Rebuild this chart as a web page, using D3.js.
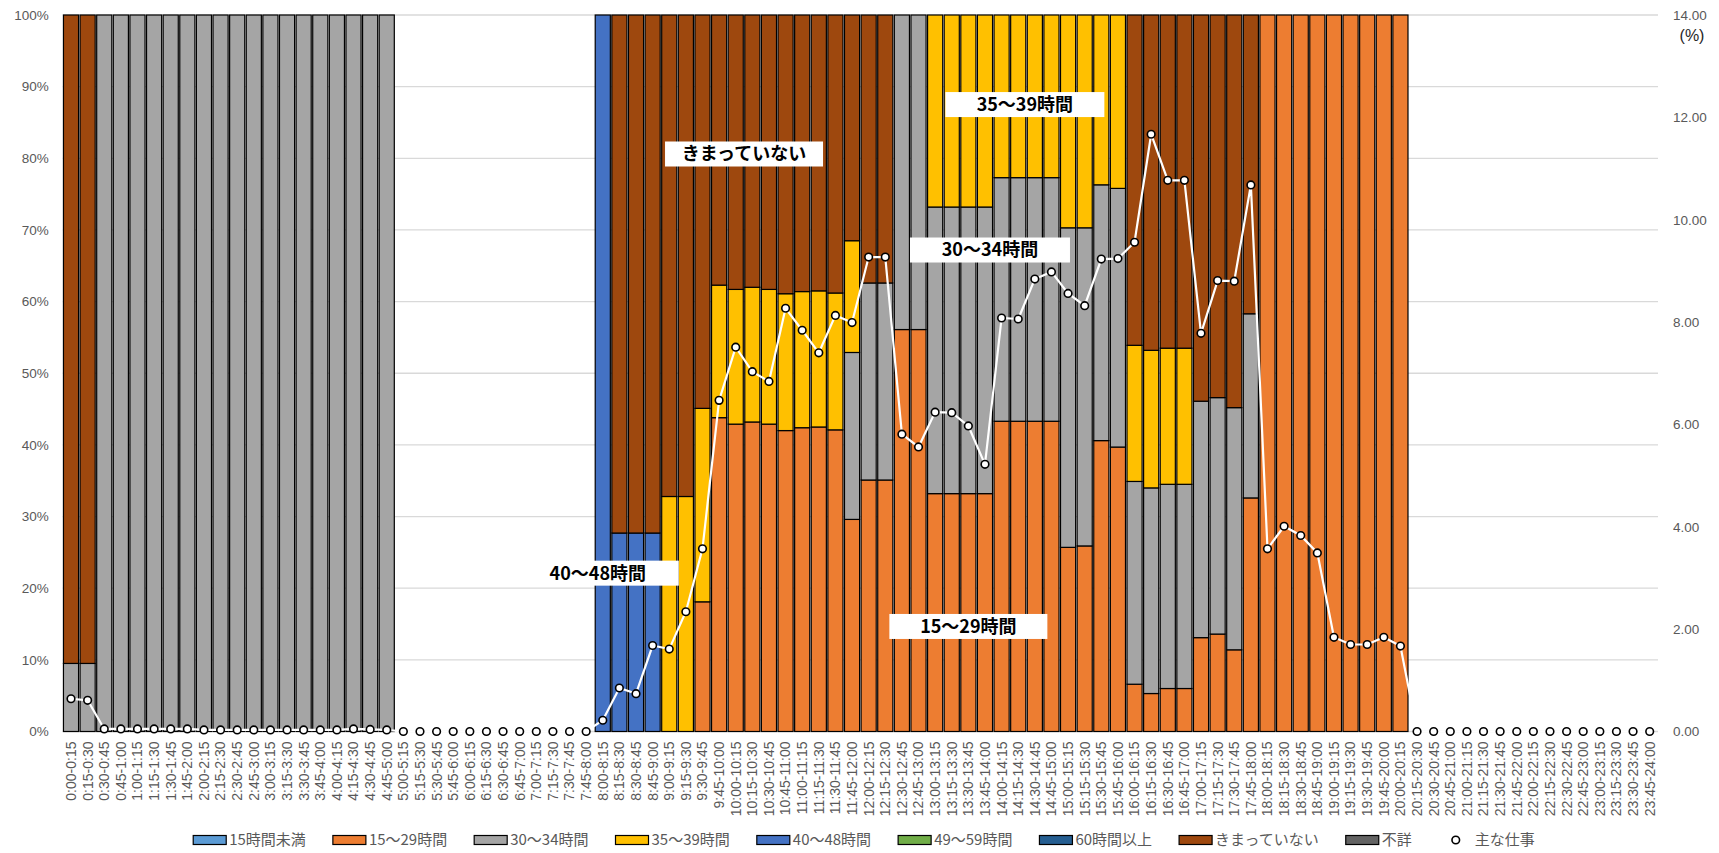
<!DOCTYPE html>
<html>
<head>
<meta charset="utf-8">
<script src="https://cdn.jsdelivr.net/npm/d3@7"></script>
<style>
    body { margin: 0; background: #ffffff; }
    svg text { font-family: "Liberation Sans", "Noto Sans CJK JP", sans-serif; }
    .tick-label { fill: #595959; font-size: 13.5px; }
    .x-label { fill: #595959; font-size: 14px; }
    .legend-text { fill: #595959; font-size: 15px; font-family: "Noto Sans CJK JP", sans-serif !important; }
    .box-text { fill: #000000; font-size: 18px; font-weight: bold; font-family: "Noto Sans CJK JP", sans-serif !important; }
</style>
</head>
<body>
<div id="chart"></div>
<script>
// time slots (x categories)
var timeSlots = [
    "0:00-0:15","0:15-0:30","0:30-0:45","0:45-1:00","1:00-1:15","1:15-1:30","1:30-1:45","1:45-2:00",
    "2:00-2:15","2:15-2:30","2:30-2:45","2:45-3:00","3:00-3:15","3:15-3:30","3:30-3:45","3:45-4:00",
    "4:00-4:15","4:15-4:30","4:30-4:45","4:45-5:00","5:00-5:15","5:15-5:30","5:30-5:45","5:45-6:00",
    "6:00-6:15","6:15-6:30","6:30-6:45","6:45-7:00","7:00-7:15","7:15-7:30","7:30-7:45","7:45-8:00",
    "8:00-8:15","8:15-8:30","8:30-8:45","8:45-9:00","9:00-9:15","9:15-9:30","9:30-9:45","9:45-10:00",
    "10:00-10:15","10:15-10:30","10:30-10:45","10:45-11:00","11:00-11:15","11:15-11:30","11:30-11:45","11:45-12:00",
    "12:00-12:15","12:15-12:30","12:30-12:45","12:45-13:00","13:00-13:15","13:15-13:30","13:30-13:45","13:45-14:00",
    "14:00-14:15","14:15-14:30","14:30-14:45","14:45-15:00","15:00-15:15","15:15-15:30","15:30-15:45","15:45-16:00",
    "16:00-16:15","16:15-16:30","16:30-16:45","16:45-17:00","17:00-17:15","17:15-17:30","17:30-17:45","17:45-18:00",
    "18:00-18:15","18:15-18:30","18:30-18:45","18:45-19:00","19:00-19:15","19:15-19:30","19:30-19:45","19:45-20:00",
    "20:00-20:15","20:15-20:30","20:30-20:45","20:45-21:00","21:00-21:15","21:15-21:30","21:30-21:45","21:45-22:00",
    "22:00-22:15","22:15-22:30","22:30-22:45","22:45-23:00","23:00-23:15","23:15-23:30","23:30-23:45","23:45-24:00"
]

var seriesNames = ["15時間未満","15～29時間","30～34時間","35～39時間","40～48時間","49～59時間","60時間以上","きまっていない","不詳"]
var lineName = "主な仕事"

// share of each working-hours group per slot (%)
var under15 = [
    0,0,0,0,0,0,0,0,0,0,0,0,0,0,0,0,
    0,0,0,0,0,0,0,0,0,0,0,0,0,0,0,0,
    0,0,0,0,0,0,0,0,0,0,0,0,0,0,0,0,
    0,0,0,0,0,0,0,0,0,0,0,0,0,0,0,0,
    0,0,0,0,0,0,0,0,0,0,0,0,0,0,0,0,
    0,0,0,0,0,0,0,0,0,0,0,0,0,0,0,0
]
var h15to29 = [
    0,0,0,0,0,0,0,0,0,0,0,0,0,0,0,0,
    0,0,0,0,0,0,0,0,0,0,0,0,0,0,0,0,
    0,0,0,0,0,0,18.1,43.8,42.9,43.2,42.9,42.0,42.4,42.5,42.1,29.6,
    35.1,35.1,56.1,56.1,33.2,33.2,33.2,33.2,43.3,43.3,43.3,43.3,25.7,25.9,40.6,39.7,
    6.6,5.3,6.0,6.0,13.1,13.6,11.4,32.6,100,100,100,100,100,100,100,100,
    100,0,0,0,0,0,0,0,0,0,0,0,0,0,0,0
]
var h30to34 = [
    9.5,9.5,100,100,100,100,100,100,100,100,100,100,100,100,100,100,
    100,100,100,100,0,0,0,0,0,0,0,0,0,0,0,0,
    0,0,0,0,0,0,0,0,0,0,0,0,0,0,0,23.3,
    27.5,27.5,43.9,43.9,40.0,40.0,40.0,40.0,34.0,34.0,34.0,34.0,44.6,44.4,35.7,36.1,
    28.3,28.7,28.5,28.5,33.0,33.0,33.8,25.7,0,0,0,0,0,0,0,0,
    0,0,0,0,0,0,0,0,0,0,0,0,0,0,0,0
]
var h35to39 = [
    0,0,0,0,0,0,0,0,0,0,0,0,0,0,0,0,
    0,0,0,0,0,0,0,0,0,0,0,0,0,0,0,0,
    0,0,0,0,32.8,32.8,27.0,18.5,18.8,18.8,18.8,19.1,19.0,19.0,19.1,15.6,
    0,0,0,0,26.8,26.8,26.8,26.8,22.7,22.7,22.7,22.7,29.7,29.7,23.7,24.2,
    19.0,19.2,19.0,19.0,0,0,0,0,0,0,0,0,0,0,0,0,
    0,0,0,0,0,0,0,0,0,0,0,0,0,0,0,0
]
var h40to48 = [
    0,0,0,0,0,0,0,0,0,0,0,0,0,0,0,0,
    0,0,0,0,0,0,0,0,0,0,0,0,0,0,0,0,
    100,27.7,27.7,27.7,0,0,0,0,0,0,0,0,0,0,0,0,
    0,0,0,0,0,0,0,0,0,0,0,0,0,0,0,0,
    0,0,0,0,0,0,0,0,0,0,0,0,0,0,0,0,
    0,0,0,0,0,0,0,0,0,0,0,0,0,0,0,0
]
var h49to59 = [
    0,0,0,0,0,0,0,0,0,0,0,0,0,0,0,0,
    0,0,0,0,0,0,0,0,0,0,0,0,0,0,0,0,
    0,0,0,0,0,0,0,0,0,0,0,0,0,0,0,0,
    0,0,0,0,0,0,0,0,0,0,0,0,0,0,0,0,
    0,0,0,0,0,0,0,0,0,0,0,0,0,0,0,0,
    0,0,0,0,0,0,0,0,0,0,0,0,0,0,0,0
]
var over60 = [
    0,0,0,0,0,0,0,0,0,0,0,0,0,0,0,0,
    0,0,0,0,0,0,0,0,0,0,0,0,0,0,0,0,
    0,0,0,0,0,0,0,0,0,0,0,0,0,0,0,0,
    0,0,0,0,0,0,0,0,0,0,0,0,0,0,0,0,
    0,0,0,0,0,0,0,0,0,0,0,0,0,0,0,0,
    0,0,0,0,0,0,0,0,0,0,0,0,0,0,0,0
]
var notFixed = [
    90.5,90.5,0,0,0,0,0,0,0,0,0,0,0,0,0,0,
    0,0,0,0,0,0,0,0,0,0,0,0,0,0,0,0,
    0,72.3,72.3,72.3,67.2,67.2,54.9,37.7,38.3,38.0,38.3,38.9,38.6,38.5,38.8,31.5,
    37.4,37.4,0,0,0,0,0,0,0,0,0,0,0,0,0,0,
    46.1,46.8,46.5,46.5,53.9,53.4,54.8,41.7,0,0,0,0,0,0,0,0,
    0,0,0,0,0,0,0,0,0,0,0,0,0,0,0,0
]
var unknown = [
    0,0,0,0,0,0,0,0,0,0,0,0,0,0,0,0,
    0,0,0,0,0,0,0,0,0,0,0,0,0,0,0,0,
    0,0,0,0,0,0,0,0,0,0,0,0,0,0,0,0,
    0,0,0,0,0,0,0,0,0,0,0,0,0,0,0,0,
    0,0,0,0,0,0,0,0,0,0,0,0,0,0,0,0,
    0,0,0,0,0,0,0,0,0,0,0,0,0,0,0,0
]

// 主な仕事 (right axis, %)
var mainWork = [
    0.64,0.61,0.05,0.05,0.05,0.05,0.05,0.05,0.03,0.03,0.03,0.03,0.03,0.03,0.03,0.03,
    0.03,0.05,0.04,0.03,0,0,0,0,0,0,0,0,0,0,0,0,
    0.22,0.85,0.74,1.68,1.61,2.34,3.57,6.47,7.51,7.03,6.84,8.27,7.84,7.40,8.13,7.99,
    9.27,9.27,5.81,5.56,6.24,6.23,5.97,5.22,8.08,8.06,8.84,8.98,8.56,8.32,9.23,9.24,
    9.56,11.67,10.77,10.77,7.78,8.81,8.80,10.68,3.57,4.01,3.83,3.49,1.84,1.70,1.70,1.84,
    1.67,0,0,0,0,0,0,0,0,0,0,0,0,0,0,0
]

var leftTicks = [0,10,20,30,40,50,60,70,80,90,100]
var rightTicks = [0,2,4,6,8,10,12,14]

class WorkChart {

    constructor() {
        this.width = 1719
        this.height = 853
        this.colors_arr = ["#5B9BD5","#ED7D31","#A5A5A5","#FFC000","#4472C4","#70AD47","#255E91","#9E480E","#636363"]
        this.margin = {top: 15, right: 61, bottom: 121.5, left: 62.7}

        document.getElementById('chart').innerHTML = ''
        this.svg = d3.select('#chart')
            .append('svg')
            .attr('width', this.width)
            .attr('height', this.height)
    }

    update() {
        var self = this
        var values = [under15, h15to29, h30to34, h35to39, h40to48, h49to59, over60, notFixed, unknown]
        var rows = timeSlots.map(function(slot, i) {
            var row = {slot: slot}
            seriesNames.forEach(function(name, k) { row[name] = values[k][i] })
            return row
        })

        var x0 = this.margin.left, x1 = this.width - this.margin.right
        var y0 = this.height - this.margin.bottom, y1 = this.margin.top

        var xScale = d3.scaleBand().domain(timeSlots).range([x0, x1]).paddingInner(0.09).paddingOuter(0.045)
        var yScale = d3.scaleLinear().domain([0, 100]).range([y0, y1])
        var yRight = d3.scaleLinear().domain([0, 14]).range([y0, y1])
        this.xScale = xScale

        // gridlines
        this.svg.append('g').selectAll('line')
            .data(leftTicks)
            .enter().append('line')
            .attr('x1', x0).attr('x2', x1)
            .attr('y1', function(d) { return yScale(d) })
            .attr('y2', function(d) { return yScale(d) })
            .attr('stroke', '#D9D9D9')
            .attr('stroke-width', 1.3)

        var yAxis = d3.axisLeft(yScale).tickValues(leftTicks).tickSize(0).tickPadding(14)
            .tickFormat(function(d) { return d + '%' })
        this.svg.append('g')
            .attr('transform', 'translate(' + x0 + ',0)')
            .call(yAxis)
            .call(function(g) { g.select('.domain').remove() })
            .selectAll('text').attr('class', 'tick-label').attr('font-family', null).attr('font-size', null)

        var yAxisRight = d3.axisRight(yRight).tickValues(rightTicks).tickSize(0).tickPadding(15)
            .tickFormat(d3.format('.2f'))
        this.svg.append('g')
            .attr('transform', 'translate(' + x1 + ',0)')
            .call(yAxisRight)
            .call(function(g) { g.select('.domain').remove() })
            .selectAll('text').attr('class', 'tick-label').attr('font-family', null).attr('font-size', null)

        this.svg.append('text')
            .attr('x', 1692).attr('y', 41)
            .attr('text-anchor', 'middle')
            .attr('fill', '#262626')
            .style('font-size', '16px')
            .text('(%)')

        // stacked bars
        var stacked = d3.stack().keys(seriesNames)(rows)
        var groups = this.svg.append('g').selectAll('g')
            .data(stacked)
            .enter().append('g')
            .attr('fill', function(d, i) { return self.colors_arr[i] })

        groups.selectAll('rect')
            .data(function(d) { return d.filter(function(p) { return p[1] - p[0] > 0 }) })
            .enter().append('rect')
            .attr('x', function(d) { return xScale(d.data.slot) })
            .attr('width', xScale.bandwidth())
            .attr('y', function(d) { return yScale(d[1]) })
            .attr('height', function(d) { return yScale(d[0]) - yScale(d[1]) })
            .attr('stroke', '#000000')
            .attr('stroke-width', 1.2)

        // x labels
        this.svg.append('g').selectAll('text')
            .data(timeSlots)
            .enter().append('text')
            .attr('class', 'x-label')
            .attr('text-anchor', 'end')
            .attr('dy', '0.35em')
            .attr('transform', function(d) {
                return 'translate(' + (xScale(d) + xScale.bandwidth() / 2) + ',' + (y0 + 10) + ') rotate(-90)'
            })
            .text(function(d) { return d })

        // 主な仕事 line
        var lineData = timeSlots.map(function(slot, i) { return {slot: slot, value: mainWork[i]} })
        var lineGen = d3.line()
            .x(function(d) { return xScale(d.slot) + xScale.bandwidth() / 2 })
            .y(function(d) { return yRight(d.value) })

        this.svg.append('path')
            .attr('d', lineGen(lineData))
            .attr('stroke', '#ffffff')
            .attr('stroke-width', 2.2)
            .attr('fill', 'none')

        this.svg.append('g').selectAll('circle')
            .data(lineData)
            .enter().append('circle')
            .attr('cx', function(d) { return xScale(d.slot) + xScale.bandwidth() / 2 })
            .attr('cy', function(d) { return yRight(d.value) })
            .attr('r', 3.8)
            .attr('fill', '#ffffff')
            .attr('stroke', '#000000')
            .attr('stroke-width', 1.6)

        this.drawBoxes(yScale)
        this.drawLegends()
    }

    drawBoxes(yScale) {
        var xScale = this.xScale
        var step = xScale.step()
        // label boxes: slot index (center) and height on the % axis
        var boxes = [
            {text: 'きまっていない', at: 40.5, v: 80.6, w: 158},
            {text: '35～39時間', at: 57.4, v: 87.5, w: 159},
            {text: '30～34時間', at: 55.3, v: 67.2, w: 160},
            {text: '40～48時間', at: 31.7, v: 22.1, w: 162},
            {text: '15～29時間', at: 54.0, v: 14.66, w: 158}
        ]
        var g = this.svg.append('g').selectAll('g')
            .data(boxes)
            .enter().append('g')
            .attr('transform', function(d) {
                var cx = xScale(timeSlots[0]) + xScale.bandwidth() / 2 + d.at * step
                return 'translate(' + cx + ',' + yScale(d.v) + ')'
            })
        g.append('rect')
            .attr('x', function(d) { return -d.w / 2 })
            .attr('y', -12.5)
            .attr('width', function(d) { return d.w })
            .attr('height', 25)
            .attr('fill', '#ffffff')
        g.append('text')
            .attr('class', 'box-text')
            .attr('text-anchor', 'middle')
            .attr('dy', '0.36em')
            .text(function(d) { return d.text })
    }

    drawLegends() {
        var self = this
        var items = seriesNames.concat([lineName])
        var legend = this.svg.append('g')
        var x = 0
        var cy = 840
        items.forEach(function(name, i) {
            var item = legend.append('g').attr('transform', 'translate(' + x + ',0)')
            if (i < seriesNames.length) {
                item.append('rect')
                    .attr('x', 0).attr('y', cy - 4.5)
                    .attr('width', 33).attr('height', 9)
                    .attr('fill', self.colors_arr[i])
                    .attr('stroke', '#000000')
                    .attr('stroke-width', 1.2)
            } else {
                item.append('circle')
                    .attr('cx', 17).attr('cy', cy)
                    .attr('r', 3.8)
                    .attr('fill', '#ffffff')
                    .attr('stroke', '#000000')
                    .attr('stroke-width', 1.6)
            }
            var t = item.append('text')
                .attr('class', 'legend-text')
                .attr('x', 36)
                .attr('y', cy)
                .attr('dy', '0.35em')
                .text(name)
            x += 36 + t.node().getComputedTextLength() + 27
        })
        var total = x - 27
        legend.attr('transform', 'translate(' + (864 - total / 2) + ',0)')
    }
}

var chart = new WorkChart()
chart.update()
</script>
</body>
</html>
